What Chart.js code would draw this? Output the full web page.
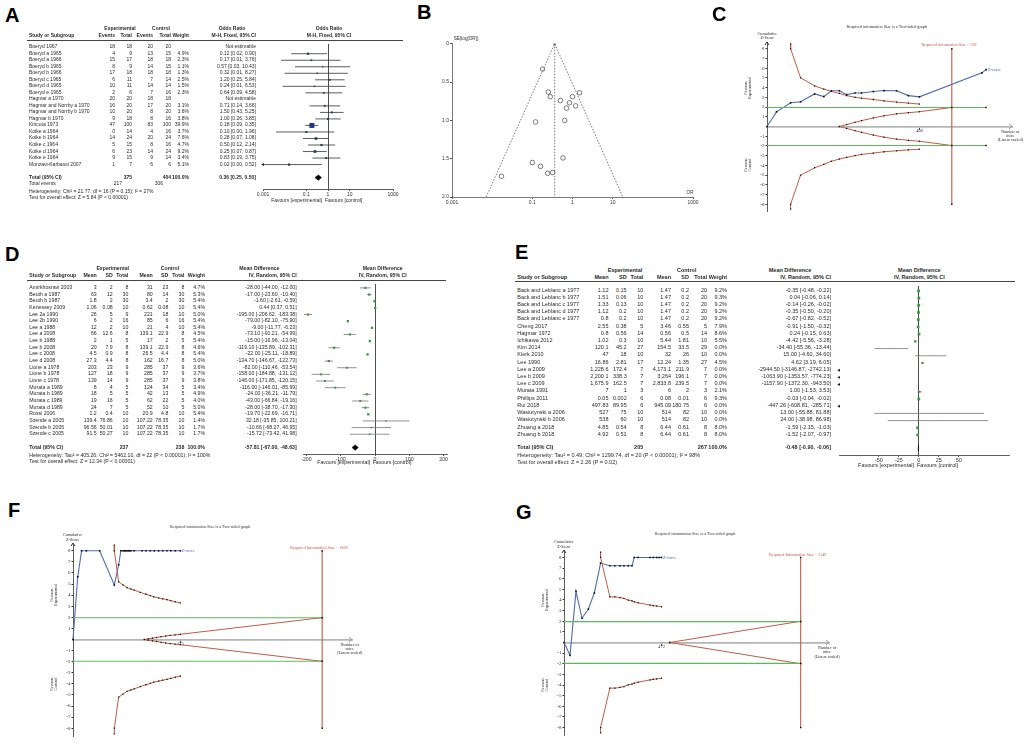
<!DOCTYPE html>
<html>
<head>
<meta charset="utf-8">
<title>Forest plots, funnel plot and trial sequential analysis</title>
<script src="https://cdn.jsdelivr.net/npm/chart.js@4.4.1/dist/chart.umd.min.js"></script>
<style>
  body { margin: 0; width: 1026px; height: 743px; position: relative; overflow: hidden; background: #fff;
         font-family: 'Liberation Sans', Arial, sans-serif; color: #2a2a2a; }
  .t { position: absolute; white-space: pre; line-height: 1.05; }
  .panel { position: absolute; font: bold 20px 'Liberation Sans', Arial, sans-serif; line-height: 1; color: #000; }
  .rule { position: absolute; height: 1px; background: #444; }
  canvas { position: absolute; }
</style>
</head>
<body>
<script>
// ---------- A: odds ratio forest plot ----------
const aStudies = ['Boeryd 1967', 'Boeryd a 1965', 'Boeryd a 1966', 'Boeryd b 1965', 'Boeryd b 1966', 'Boeryd c 1965',
  'Boeryd d 1965', 'Boeryd e 1965', 'Hagmar a 1970', 'Hagmar and Norrby a 1970', 'Hagmar and Norrby b 1970',
  'Hagmar b 1970', 'Kiricuta 1973', 'Koike a 1964', 'Koike b 1964', 'Koike c 1964', 'Koike d 1964', 'Koike e 1964',
  'Monzavi-Karbassi 2007'];
const aExpEvents = [18, 4, 15, 8, 17, 6, 10, 2, 20, 16, 10, 9, 47, 0, 14, 5, 6, 9, 1];
const aExpTotal = [18, 9, 17, 9, 18, 11, 11, 6, 20, 20, 20, 18, 100, 14, 24, 15, 23, 15, 7];
const aCtrlEvents = [20, 13, 18, 14, 18, 7, 14, 7, 18, 17, 8, 8, 83, 4, 20, 8, 14, 9, 6];
const aCtrlTotal = [20, 15, 18, 15, 18, 14, 14, 16, 18, 20, 20, 16, 100, 16, 24, 16, 24, 14, 6];
const aWeight = [null, 4.9, 2.3, 1.1, 1.3, 2.5, 1.5, 2.3, null, 3.1, 3.6, 3.8, 39.9, 3.7, 7.6, 4.7, 9.2, 3.4, 5.1];
const aOR = [null, 0.12, 0.17, 0.57, 0.32, 1.20, 0.24, 0.64, null, 0.71, 1.50, 1.00, 0.18, 0.10, 0.28, 0.50, 0.25, 0.83, 0.016];
const aLow = [null, 0.02, 0.0068, 0.03, 0.01, 0.25, 0.0081, 0.09, null, 0.14, 0.43, 0.26, 0.09, 0.004, 0.07, 0.12, 0.07, 0.19, 0.0008];
const aHigh = [null, 0.90, 3.76, 10.43, 8.27, 5.84, 6.53, 4.58, null, 3.66, 5.25, 3.85, 0.35, 1.96, 1.08, 2.14, 0.87, 3.75, 0.52];
const aTotal = { est: 0.36, lo: 0.25, hi: 0.50 };
const aTicks = [0.001, 0.1, 1, 10, 1000];
const aTotals = ['375', '404', '217', '306'];
const aHet = 'Heterogeneity: Chi² = 21.77, df = 16 (P = 0.15); I² = 27%';
const aTest = 'Test for overall effect: Z = 5.84 (P < 0.00001)';

// ---------- B: funnel plot ----------
const bOR = [0.18, 0.25, 0.28, 0.50, 1.0, 1.5, 0.84, 1.2, 0.71, 0.12, 0.64, 0.58, 0.10, 0.16, 0.24, 0.32, 0.017];
const bSE = [0.33, 0.63, 0.69, 0.74, 0.69, 0.64, 0.77, 0.81, 0.84, 1.02, 1.0, 1.49, 1.55, 1.6, 1.69, 1.68, 1.73];
const bPooled = 0.36;
const bFunnelLow = 0.0071;
const bFunnelHigh = 17.9;
const bSEMax = 2;
const bTicksX = [0.001, 0.1, 1, 10, 1000];
const bTicksY = [0, 0.5, 1, 1.5, 2];

// ---------- C: TSA for A ----------
const cZx = [0, 25, 62, 88, 125, 149, 169, 190, 209, 231, 248, 279, 307, 340, 371, 400, 564, 575];
const cZy = [0, 1.51, 2.44, 2.54, 3.35, 3.08, 3.68, 3.68, 3.28, 3.45, 3.45, 3.6, 3.7, 3.68, 3.18, 3.05, 5.52, 5.86];
const cBx = [62, 62, 88, 125, 149, 169, 190, 209, 231, 248, 279, 307, 340, 371, 400];
const cBup = [8.5, 8, 5.02, 4.18, 3.85, 3.61, 3.41, 3.18, 3.01, 2.91, 2.78, 2.64, 2.51, 2.41, 2.31];
const cBlow = [-8.5, -8, -5.02, -4.25, -3.9, -3.58, -3.35, -3.18, -3.0, -2.88, -2.74, -2.6, -2.5, -2.4, -2.34];
const cWx = [190, 209, 231, 248, 279, 307, 340, 371, 400, 485];
const cWup = [0, 0.2, 0.43, 0.6, 0.88, 1.1, 1.3, 1.42, 1.52, 1.96];
const cWlow = [0, -0.2, -0.43, -0.6, -0.88, -1.1, -1.3, -1.42, -1.52, -1.96];
const cRIS = 485, cGreenEnd = 575, cTick = 400, cXmax = 643;
const cRISLabel = 'Required information Size = 592';

// ---------- D: mean difference forest plot ----------
const dStudies = ['Amirkhosravi 2003', 'Beuth a 1987', 'Beuth b 1987', 'Kenessey 2009', 'Lee 2a 1990', 'Lee 2b 1990',
  'Lee a 1988', 'Lee a 2008', 'Lee b 1988', 'Lee b 2008', 'Lee c 2008', 'Lee d 2008', 'Lione a 1978', 'Lione b 1978',
  'Lione c 1978', 'Murata a 1989', 'Murata b 1989', 'Murata c 1989', 'Murata d 1989', 'Rossi 2006', 'Szende a 2005',
  'Szende b 2005', 'Szende c 2005'];
const dExpMean = [3, 63, 1.8, 1.06, 26, 6, 12, 66, 2, 20, 4.5, 27.3, 203, 127, 139, 8, 18, 19, 24, 1.2, 139.4, 96.56, 91.5];
const dExpSD = [2, 12, 2, 0.08, 5, 2, 2, 12.6, 1, 7.9, 0.9, 4.4, 23, 18, 14, 4, 5, 16, 7, 0.4, 76.86, 50.01, 50.27];
const dExpN = [8, 30, 30, 10, 9, 16, 10, 8, 5, 8, 8, 8, 9, 9, 9, 5, 5, 5, 5, 10, 10, 10, 10];
const dCtrlMean = [31, 80, 3.4, 0.62, 221, 85, 21, 139.1, 17, 139.1, 26.5, 162, 285, 285, 285, 124, 42, 62, 52, 20.9, 107.22, 107.22, 107.22];
const dCtrlSD = [23, 14, 2, 0.08, 18, 6, 4, 22.9, 2, 22.9, 4.4, 16.7, 37, 37, 37, 34, 13, 22, 10, 4.8, 78.35, 78.35, 78.35];
const dCtrlN = [8, 30, 30, 10, 10, 16, 10, 8, 5, 8, 8, 8, 9, 9, 9, 5, 5, 5, 5, 10, 10, 10, 10];
const dWeight = [4.7, 5.3, 5.4, 5.4, 5.0, 5.4, 5.4, 4.5, 5.4, 4.6, 5.4, 5.0, 3.6, 3.7, 3.8, 3.4, 4.9, 4.0, 5.0, 5.4, 1.4, 1.7, 1.7];
const dMD = [-28, -17, -1.6, 0.44, -195, -79, -9, -73.1, -15, -119.1, -22, -134.7, -82, -158, -146, -116, -24, -43, -28, -19.7, 32.18, -10.66, -15.72];
const dLow = [-44, -23.6, -2.61, 0.37, -206.62, -82.1, -11.77, -91.21, -16.96, -135.89, -25.11, -146.67, -110.46, -184.88,
  -171.85, -146.01, -36.21, -66.84, -38.7, -22.69, -35.85, -68.27, -73.42];
const dHigh = [-12, -10.4, -0.59, 0.51, -183.38, -75.9, -6.23, -54.99, -13.04, -102.31, -18.89, -122.73, -53.54, -131.12,
  -120.15, -85.99, -11.79, -19.16, -17.3, -16.71, 100.21, 46.95, 41.98];
const dTotal = { est: -57.81, lo: -67.00, hi: -48.63 };
const dTicks = [-200, -100, 0, 100, 200];
const dTotals = ['237', '238'];
const dHet = 'Heterogeneity: Tau² = 405.26; Chi² = 5462.10, df = 22 (P < 0.00001); I² = 100%';
const dTest = 'Test for overall effect: Z = 12.34 (P < 0.00001)';

// ---------- E: mean difference forest plot ----------
const eStudies = ['Back and Leblanc a 1977', 'Back and Leblanc b 1977', 'Back and Leblanc c 1977', 'Back and Leblanc d 1977',
  'Back and Leblanc e 1977', 'Cheng 2017', 'Hagmar 1972', 'Ichikawa 2012', 'Kim 2014', 'Klerk 2010', 'Lee 1990',
  'Lee a 2009', 'Lee b 2009', 'Lee c 2009', 'Murata 1991', 'Phillips 2011', 'Rui 2018', 'Wasiutynski a 2006',
  'Wasiutynski b 2006', 'Zhuang a 2018', 'Zhuang b 2018'];
const eExpMean = [1.12, 1.51, 1.33, 1.12, 0.8, 2.55, 0.8, 1.02, 120.1, 47, 16.86, 1228.6, 2200.1, 1675.9, 7, 0.05, 497.83, 527, 538, 4.85, 4.92];
const eExpSD = [0.15, 0.06, 0.13, 0.2, 0.2, 0.38, 0.56, 0.3, 45.2, 18, 2.81, 172.4, 338.3, 162.5, 1, 0.002, 89.95, 75, 60, 0.54, 0.51];
const eExpN = [10, 10, 10, 10, 10, 5, 14, 10, 27, 10, 17, 7, 7, 7, 3, 6, 6, 10, 10, 8, 8];
const eCtrlMean = [1.47, 1.47, 1.47, 1.47, 1.47, 3.46, 0.56, 5.44, 154.5, 32, 12.24, 4173.1, 3264, 2833.8, 6, 0.08, 945.09, 514, 514, 6.44, 6.44];
const eCtrlSD = [0.2, 0.2, 0.2, 0.2, 0.2, 0.55, 0.5, 1.81, 33.5, 26, 1.35, 211.9, 196.1, 239.5, 2, 0.01, 180.75, 82, 82, 0.61, 0.61];
const eCtrlN = [20, 20, 20, 20, 20, 5, 14, 10, 29, 10, 27, 7, 7, 7, 3, 6, 6, 10, 10, 8, 8];
const eWeight = [9.2, 9.3, 9.2, 9.2, 9.2, 7.9, 8.6, 5.5, 0, 0, 4.5, 0, 0, 0, 2.1, 9.3, 0, 0, 0, 8.0, 8.0];
const eMD = [-0.35, 0.04, -0.14, -0.35, -0.67, -0.91, 0.24, -4.42, -34.4, 15, 4.62, -2944.5, -1063.9, -1157.9, 1, -0.03, -447.26, 13, 24, -1.59, -1.52];
const eLow = [-0.48, -0.06, -0.26, -0.5, -0.82, -1.5, -0.15, -5.56, -55.36, -4.6, 3.19, -3146.87, -1353.57, -1372.3, -1.53,
  -0.04, -608.81, -55.88, -38.98, -2.15, -2.07];
const eHigh = [-0.22, 0.14, -0.02, -0.2, -0.52, -0.32, 0.63, -3.28, -13.44, 34.6, 6.05, -2742.13, -774.23, -943.5, 3.53,
  -0.02, -285.71, 81.88, 86.98, -1.03, -0.97];
const eTotal = { est: -0.48, lo: -0.90, hi: -0.06 };
const eTicks = [-50, -25, 0, 25, 50];
const eTotals = ['205', '267'];
const eHet = 'Heterogeneity: Tau² = 0.49; Chi² = 1299.74, df = 20 (P < 0.00001); I² = 98%';
const eTest = 'Test for overall effect: Z = 2.26 (P = 0.02)';

// ---------- F: TSA for D ----------
const fZx = [0, 21, 38, 59, 118, 183, 202, 212, 221, 227, 233, 239, 245, 251, 257, 271, 305, 323, 342, 360, 379, 397, 416, 433, 453, 475];
const fZy = [0, 5.65, 8, 8, 8, 4.91, 6.74, 8, 8, 8, 8, 8, 8, 8, 8, 8, 8, 8, 8, 8, 8, 8, 8, 8, 8, 8];
const fBx = [183, 183, 202, 221, 239, 257, 271, 298, 323, 342, 357, 379, 397, 416, 433, 453, 475];
const fBup = [8.5, 8, 5.2, 4.93, 4.68, 4.55, 4.45, 4.24, 4.08, 3.96, 3.85, 3.75, 3.67, 3.59, 3.5, 3.4, 3.3];
const fBlow = [-8.5, -8, -5.2, -4.93, -4.68, -4.55, -4.45, -4.24, -4.08, -3.96, -3.85, -3.75, -3.67, -3.59, -3.5, -3.4, -3.3];
const fWx = [316, 333, 352, 370, 390, 410, 430, 452, 475, 1103];
const fWup = [0, 0.06, 0.12, 0.18, 0.25, 0.31, 0.37, 0.42, 0.47, 1.97];
const fWlow = [0, -0.06, -0.12, -0.18, -0.25, -0.31, -0.37, -0.42, -0.47, -1.97];
const fRIS = 1103, fTick = 475, fXmax = 1235;
const fRISLabel = 'Required Information Size = 1069';

// ---------- G: TSA for E ----------
const gZx = [0, 29, 58, 87, 118, 147, 177, 222, 246, 271, 290, 311, 329, 340, 359, 416, 432, 448, 460, 472];
const gZy = [0, -1.2, 4.81, 2.28, 3.15, 4.66, 7.47, 7.22, 7.22, 7.22, 7.22, 7.22, 7.22, 8, 8, 8, 8, 8, 8, 8];
const gBx = [177, 177, 222, 246, 271, 290, 311, 329, 340, 359, 416, 432, 448, 472];
const gBup = [8.5, 8, 4.29, 4.29, 4.23, 4.14, 3.98, 3.92, 3.83, 3.73, 3.52, 3.46, 3.43, 3.36];
const gBlow = [-8.5, -8, -4.29, -4.29, -4.23, -4.14, -3.98, -3.92, -3.83, -3.73, -3.52, -3.46, -3.43, -3.36];
const gWx = [512, 1145];
const gWup = [0, 2.0];
const gWlow = [0, -2.0];
const gRIS = 1145, gTick = 472, gXmax = 1282;
const gRISLabel = 'Required Information Size = 1149';

const zTicks = [-8, -7, -6, -5, -4, -3, -2, -1, 1, 2, 3, 4, 5, 6, 7, 8];
const zBound = 1.96;

const SERIF = "'Liberation Serif', 'Times New Roman', serif";
const BLUE = '#4d6db5', RED = '#c25b45', GREEN = '#5cb85c', SQGREEN = '#2f9e3a';

Chart.defaults.animation = false;
Chart.defaults.responsive = false;
Chart.defaults.plugins.legend.display = false;
Chart.defaults.plugins.tooltip.enabled = false;
Chart.defaults.font.family = "'Liberation Sans', Arial, sans-serif";

// small helpers for the html text
function put(text, x, y, size, o) {
  o = o || {};
  var d = document.createElement('div');
  d.className = 't';
  d.textContent = text;
  d.style.left = x + 'px';
  d.style.top = y + 'px';
  d.style.fontSize = size + 'px';
  var tx = o.align === 'right' ? '-100%' : (o.align === 'center' ? '-50%' : '0');
  d.style.transform = 'translate(' + tx + ',-50%)' + (o.rotate ? ' rotate(-90deg)' : '');
  d.style.textAlign = o.align === 'right' ? 'right' : (o.align === 'center' ? 'center' : 'left');
  if (o.bold) d.style.fontWeight = 'bold';
  if (o.color) d.style.color = o.color;
  if (o.font) d.style.fontFamily = o.font;
  document.body.appendChild(d);
}
function panel(letter, x, y) {
  var d = document.createElement('div');
  d.className = 'panel';
  d.textContent = letter;
  d.style.left = x + 'px';
  d.style.top = y + 'px';
  document.body.appendChild(d);
}
function rule(x1, x2, y) {
  var d = document.createElement('div');
  d.className = 'rule';
  d.style.left = x1 + 'px';
  d.style.top = (y - 0.5) + 'px';
  d.style.width = (x2 - x1) + 'px';
  document.body.appendChild(d);
}
function addCanvas(left, top, w, h) {
  var c = document.createElement('canvas');
  c.width = Math.round(w);
  c.height = Math.round(h);
  c.style.left = left + 'px';
  c.style.top = top + 'px';
  document.body.appendChild(c);
  return c;
}
function num(v) { return v.toLocaleString('en-US', { maximumFractionDigits: 3 }); }
function ci(e, l, h) { return e.toFixed(2) + ' [' + l.toFixed(2) + ', ' + h.toFixed(2) + ']'; }

// forest plot: the chart area is the plot column, the rows follow the y scale
function forest(p) {
  var padX = 14, axisH = 9;
  var yMin = 1 - (p.row1 - p.top) / p.pitch;
  var yMax = 1 + (p.bottom - p.row1) / p.pitch;
  var cv = addCanvas(p.left - padX, p.top, p.right - p.left + 2 * padX, p.bottom - p.top + axisH);
  var sets = [];
  p.est.forEach(function (e, i) {
    if (e === null || p.hi[i] < p.xMin) return;
    sets.push({ data: [{ x: Math.max(p.lo[i], p.xMin), y: i + 1 }, { x: Math.min(p.hi[i], p.xMax), y: i + 1 }],
      showLine: true, borderColor: p.ciColor, borderWidth: 0.8, pointRadius: 0, clip: false });
  });
  var sq = [], sqR = [], arrows = [];
  p.est.forEach(function (e, i) {
    if (e === null) return;
    if (e >= p.xMin && e <= p.xMax) { sq.push({ x: e, y: i + 1 }); sqR.push(0.5 + 0.48 * Math.sqrt(p.weight[i])); }
    if (p.lo[i] < p.xMin) arrows.push({ x: p.xMin, y: i + 1 });
  });
  sets.push({ data: sq, pointStyle: 'rect', pointRadius: sqR, pointBackgroundColor: p.sqColor, pointBorderWidth: 0 });
  sets.push({ data: arrows, pointStyle: 'triangle', pointRotation: -90, pointRadius: 1.7,
    pointBackgroundColor: '#111', pointBorderWidth: 0, clip: false });
  var t = p.total, tr = p.totalRow;
  sets.push({ data: [{ x: t.lo, y: tr }, { x: t.est, y: tr - 0.4 }, { x: t.hi, y: tr }, { x: t.est, y: tr + 0.4 }, { x: t.lo, y: tr }],
    showLine: true, fill: 'shape', backgroundColor: '#000', borderColor: '#000', borderWidth: 0.6, pointRadius: 0, tension: 0 });

  var chart = new Chart(cv, {
    type: 'scatter',
    data: { datasets: sets },
    options: {
      layout: { padding: { left: padX, right: padX, top: 0, bottom: 0 } },
      scales: {
        x: {
          type: p.log ? 'logarithmic' : 'linear', min: p.xMin, max: p.xMax,
          afterBuildTicks: function (s) { s.ticks = p.ticks.map(function (v) { return { value: v }; }); },
          afterFit: function (s) { s.paddingLeft = 0; s.paddingRight = 0; s.height = axisH; },
          ticks: { font: { size: p.font }, color: '#333', padding: 0.5, maxRotation: 0, autoSkip: false,
            callback: function (v) { return String(v); } },
          grid: { color: function (c) { return c.tick && c.tick.value === p.ref ? '#222' : 'rgba(0,0,0,0)'; },
            tickColor: '#333', tickLength: 2, lineWidth: 0.8 },
          border: { color: '#333', width: 0.8 }
        },
        y: { type: 'linear', reverse: true, min: yMin, max: yMax, display: false }
      }
    }
  });
  var ys = chart.scales.y;
  p.rowY = function (r) { return p.top + ys.getPixelForValue(r); };
  return chart;
}

function rows(p, cells) {
  cells.forEach(function (row, i) {
    row.forEach(function (v, k) {
      if (v === '' || v === null) return;
      put(String(v), p.cols[k][0], p.rowY(i + 1), p.font, { align: p.cols[k][1] });
    });
  });
}

// trial sequential analysis chart
var arrowPlugin = {
  id: 'axisArrows',
  afterDraw: function (chart) {
    var ctx = chart.ctx, xs = chart.scales.x, ys = chart.scales.y;
    var y0 = ys.getPixelForValue(0), x0 = xs.left;
    ctx.save();
    ctx.lineWidth = 1;
    ctx.strokeStyle = '#9a9a9a';
    ctx.beginPath(); ctx.moveTo(xs.right - 3, y0 - 2.5); ctx.lineTo(xs.right, y0); ctx.lineTo(xs.right - 3, y0 + 2.5); ctx.stroke();
    ctx.strokeStyle = '#333';
    ctx.beginPath(); ctx.moveTo(x0 - 2, ys.top + 3); ctx.lineTo(x0, ys.top); ctx.lineTo(x0 + 2, ys.top + 3); ctx.stroke();
    ctx.restore();
  }
};

function tsa(p) {
  var yW = 9;
  var cv = addCanvas(p.left - yW - 3, p.top - 2, p.right - p.left + yW + 9, p.bottom - p.top + 4);
  function series(xs, vals, color, radius, width) {
    return { data: xs.map(function (x, i) { return { x: x, y: vals[i] }; }), showLine: true, borderColor: color,
      borderWidth: width || 1, pointStyle: 'rect', pointRadius: radius, pointBackgroundColor: '#111',
      pointBorderWidth: 0, clip: false };
  }
  var greenX = [0, p.ris].concat(p.greenEnd ? [p.greenEnd] : []);
  var greenR = [0, 1].concat(p.greenEnd ? [1] : []);
  var sets = [
    series(greenX, greenX.map(function () { return zBound; }), GREEN, greenR, 1.1),
    series(greenX, greenX.map(function () { return -zBound; }), GREEN, greenR, 1.1),
    series([p.ris, p.ris], [-8, 8], RED, 1, 1.1),
    series(p.wx, p.wup, RED, 0.9),
    series(p.wx, p.wlow, RED, 0.9),
    series(p.bx, p.bup, RED, 0.9),
    series(p.bx, p.blow, RED, 0.9),
    series(p.zx, p.zy, BLUE, 1.15, 1.1)
  ];
  var chart = new Chart(cv, {
    type: 'scatter',
    data: { datasets: sets },
    options: {
      layout: { padding: { left: 3, right: 6, top: 2, bottom: 2 } },
      scales: {
        x: {
          type: 'linear', min: 0, max: p.xMax, position: { y: 0 },
          afterBuildTicks: function (s) { s.ticks = [{ value: p.tick }]; },
          ticks: { font: { family: SERIF, size: 4.6 }, color: '#333', padding: 0, maxRotation: 0,
            callback: function (v) { return String(v); } },
          grid: { drawOnChartArea: false, tickLength: 2, tickColor: '#333' },
          border: { color: '#b4b4b4', width: 1.8 }
        },
        y: {
          type: 'linear', min: -8.7, max: 8.7, position: 'left',
          afterBuildTicks: function (s) { s.ticks = zTicks.map(function (v) { return { value: v }; }); },
          afterFit: function (s) { s.width = yW; s.paddingTop = 0; s.paddingBottom = 0; },
          ticks: { font: { family: SERIF, size: 5 }, color: '#333', padding: 1, autoSkip: false },
          grid: { drawOnChartArea: false, tickLength: 1.5, tickColor: '#333' },
          border: { color: '#333', width: 0.8 }
        }
      }
    },
    plugins: [arrowPlugin]
  });
  var xs = chart.scales.x, ys = chart.scales.y;
  var X = function (v) { return p.left - yW - 3 + xs.getPixelForValue(v); };
  var Y = function (v) { return p.top - 2 + ys.getPixelForValue(v); };
  var ax = X(0);
  put('Required information Size is a Two-sided graph', p.titleX, p.titleY, 4.2, { align: 'center', font: SERIF });
  put('Cumulative\nZ-Score', ax, Y(8.7) - 6, 4.2, { align: 'center', font: SERIF });
  put('Favours\nExperimental', ax - 19, Y(4), 4.2, { align: 'center', font: SERIF, rotate: true });
  put('Favours\nControl', ax - 19, Y(-4), 4.2, { align: 'center', font: SERIF, rotate: true });
  put('Number of\nmice\n(Linear scaled)', X(p.xMax) - 2, Y(0) + 10, 4.2, { align: 'center', font: SERIF });
  put(p.risLabel, X(p.ris) - 3, Y(8) - 3.3, 4.2, { align: 'center', font: SERIF, color: RED });
  var last = p.zx.length - 1;
  put('Z-curve', X(p.zx[last]) + 1.5, Y(p.zy[last]) + 0.5, 4.2, { font: SERIF, color: BLUE });
  return chart;
}

// ===== panel A =====
panel('A', 5, 5.4);
var pA = { left: 263, right: 393, top: 40, bottom: 189, row1: 43.3, pitch: 6.7, log: true, xMin: 0.001, xMax: 1000,
  ticks: aTicks, ref: 1, est: aOR, lo: aLow, hi: aHigh, weight: aWeight, total: aTotal, totalRow: 21,
  ciColor: '#333', sqColor: '#1f3c95', font: 5,
  cols: [[29, 'left'], [115, 'right'], [132, 'right'], [153, 'right'], [171, 'right'], [189, 'right'], [256, 'right']] };
forest(pA);
rule(27, 403, 40);
put('Experimental', 120, 29, 5, { align: 'center', bold: true });
put('Control', 161, 29, 5, { align: 'center', bold: true });
put('Odds Ratio', 232, 29, 5, { align: 'center', bold: true });
put('Odds Ratio', 329, 29, 5, { align: 'center', bold: true });
['Study or Subgroup', 'Events', 'Total', 'Events', 'Total', 'Weight', 'M-H, Fixed, 95% CI'].forEach(function (h, k) {
  put(h, pA.cols[k][0], 36, 5, { align: pA.cols[k][1], bold: true });
});
put('M-H, Fixed, 95% CI', 329, 36, 5, { align: 'center', bold: true });
rows(pA, aStudies.map(function (s, i) {
  return [s, aExpEvents[i], aExpTotal[i], aCtrlEvents[i], aCtrlTotal[i],
    aWeight[i] === null ? '' : aWeight[i].toFixed(1) + '%',
    aOR[i] === null ? 'Not estimable' : ci(aOR[i], aLow[i], aHigh[i])];
}));
put('Total (95% CI)', 29, pA.rowY(21), 5, { bold: true });
put(aTotals[0], 132, pA.rowY(21), 5, { align: 'right', bold: true });
put(aTotals[1], 171, pA.rowY(21), 5, { align: 'right', bold: true });
put('100.0%', 189, pA.rowY(21), 5, { align: 'right', bold: true });
put(ci(aTotal.est, aTotal.lo, aTotal.hi), 256, pA.rowY(21), 5, { align: 'right', bold: true });
put('Total events', 29, pA.rowY(22), 5);
put(aTotals[2], 122, pA.rowY(22), 5, { align: 'right' });
put(aTotals[3], 163, pA.rowY(22), 5, { align: 'right' });
put(aHet, 29, pA.rowY(23.15), 5);
put(aTest, 29, pA.rowY(24.1), 5);
put('Favours [experimental]', 322, 201, 5, { align: 'right' });
put('Favours [control]', 325, 201, 5);

// ===== panel B =====
panel('B', 417, 2.4);
(function () {
  var L = 451.7, R = 693, T = 42.7, Bt = 196.7, yW = 14, axisH = 9;
  var cv = addCanvas(L - yW - 4, T - 4, R - L + yW + 14, Bt - T + 4 + axisH + 2);
  new Chart(cv, {
    type: 'scatter',
    data: { datasets: [
      { data: [{ x: bFunnelLow, y: bSEMax }, { x: bPooled, y: 0 }, { x: bFunnelHigh, y: bSEMax }], showLine: true,
        borderColor: '#555', borderWidth: 0.8, borderDash: [1.5, 1.5], pointRadius: 0 },
      { data: [{ x: bPooled, y: 0 }, { x: bPooled, y: bSEMax }], showLine: true,
        borderColor: '#555', borderWidth: 0.8, borderDash: [1.5, 1.5], pointRadius: [1, 0], pointBackgroundColor: '#555' },
      { data: bOR.map(function (v, i) { return { x: v, y: bSE[i] }; }), pointStyle: 'circle', pointRadius: 2.3,
        pointBackgroundColor: 'rgba(0,0,0,0)', pointBorderColor: '#444', pointBorderWidth: 0.7 }
    ] },
    options: {
      layout: { padding: { left: 4, right: 10, top: 4, bottom: 2 } },
      scales: {
        x: { type: 'logarithmic', min: 0.001, max: 1000,
          afterBuildTicks: function (s) { s.ticks = bTicksX.map(function (v) { return { value: v }; }); },
          afterFit: function (s) { s.paddingLeft = 0; s.paddingRight = 0; s.height = axisH; },
          ticks: { font: { size: 5 }, color: '#333', padding: 0.5, maxRotation: 0, autoSkip: false,
            callback: function (v) { return String(v); } },
          grid: { drawOnChartArea: false, tickLength: 2, tickColor: '#555' },
          border: { color: '#555', width: 0.8 } },
        y: { type: 'linear', reverse: true, min: 0, max: bSEMax,
          afterBuildTicks: function (s) { s.ticks = bTicksY.map(function (v) { return { value: v }; }); },
          afterFit: function (s) { s.width = yW; s.paddingTop = 0; s.paddingBottom = 0; },
          ticks: { font: { size: 5 }, color: '#333', padding: 1, autoSkip: false },
          grid: { drawOnChartArea: false, tickLength: 2, tickColor: '#555' },
          border: { color: '#555', width: 0.8 } }
      }
    }
  });
  put('SE(log[OR])', L + 2, T - 3.5, 4.6);
  put('OR', R - 3, Bt - 3.5, 4.6, { align: 'center' });
})();

// ===== panel C =====
panel('C', 712, 4.4);
tsa({ left: 767.3, right: 1012, top: 40.0, bottom: 213.4, xMax: cXmax, tick: cTick, ris: cRIS, greenEnd: cGreenEnd,
  zx: cZx, zy: cZy, bx: cBx, bup: cBup, blow: cBlow, wx: cWx, wup: cWup, wlow: cWlow,
  risLabel: cRISLabel, titleX: 886.7, titleY: 26.7 });

// ===== panel D =====
panel('D', 5, 244);
var pD = { left: 302.5, right: 446, top: 280, bottom: 454.3, row1: 284, pitch: 6.82, log: false, xMin: -210, xMax: 210,
  ticks: dTicks, ref: 0, est: dMD, lo: dLow, hi: dHigh, weight: dWeight, total: dTotal, totalRow: 25,
  ciColor: '#777', sqColor: SQGREEN, font: 5.2,
  cols: [[29.3, 'left'], [96.7, 'right'], [112.7, 'right'], [128.3, 'right'], [152.7, 'right'], [168.3, 'right'],
    [184.3, 'right'], [205, 'right'], [296.7, 'right']] };
forest(pD);
rule(27, 446, 280);
put('Experimental', 112.7, 269.3, 5.2, { align: 'center', bold: true });
put('Control', 170, 269.3, 5.2, { align: 'center', bold: true });
put('Mean Difference', 259.3, 269.3, 5.2, { align: 'center', bold: true });
put('Mean Difference', 382.7, 269.3, 5.2, { align: 'center', bold: true });
['Study or Subgroup', 'Mean', 'SD', 'Total', 'Mean', 'SD', 'Total', 'Weight', 'IV, Random, 95% CI'].forEach(function (h, k) {
  put(h, pD.cols[k][0], 276.3, 5.2, { align: pD.cols[k][1], bold: true });
});
put('IV, Random, 95% CI', 382.7, 276.3, 5.2, { align: 'center', bold: true });
rows(pD, dStudies.map(function (s, i) {
  return [s, num(dExpMean[i]), num(dExpSD[i]), dExpN[i], num(dCtrlMean[i]), num(dCtrlSD[i]), dCtrlN[i],
    dWeight[i].toFixed(1) + '%', ci(dMD[i], dLow[i], dHigh[i])];
}));
put('Total (95% CI)', 29.3, pD.rowY(25), 5.2, { bold: true });
put(dTotals[0], 128.3, pD.rowY(25), 5.2, { align: 'right', bold: true });
put(dTotals[1], 184.3, pD.rowY(25), 5.2, { align: 'right', bold: true });
put('100.0%', 205, pD.rowY(25), 5.2, { align: 'right', bold: true });
put(ci(dTotal.est, dTotal.lo, dTotal.hi), 296.7, pD.rowY(25), 5.2, { align: 'right', bold: true });
put(dHet, 29.3, pD.rowY(26.2), 5.2);
put(dTest, 29.3, pD.rowY(27.1), 5.2);
put('Favours [experimental]', 370, 462.7, 5.2, { align: 'right' });
put('Favours [control]', 372.7, 462.7, 5.2);

// ===== panel E =====
panel('E', 515, 242.4);
var pE = { left: 839.3, right: 1009.7, top: 281.7, bottom: 454.3, row1: 286.7, pitch: 7.36, log: false, xMin: -100, xMax: 113,
  ticks: eTicks, ref: 0, est: eMD, lo: eLow, hi: eHigh, weight: eWeight, total: eTotal, totalRow: 22.82,
  ciColor: '#777', sqColor: SQGREEN, font: 5.5,
  cols: [[517.3, 'left'], [608.5, 'right'], [626.7, 'right'], [643.3, 'right'], [671, 'right'], [689, 'right'],
    [707, 'right'], [727, 'right'], [831, 'right']] };
forest(pE);
rule(515, 1015, 281.7);
put('Experimental', 625, 270.7, 5.5, { align: 'center', bold: true });
put('Control', 686.7, 270.7, 5.5, { align: 'center', bold: true });
put('Mean Difference', 790, 270.7, 5.5, { align: 'center', bold: true });
put('Mean Difference', 919.3, 270.7, 5.5, { align: 'center', bold: true });
['Study or Subgroup', 'Mean', 'SD', 'Total', 'Mean', 'SD', 'Total', 'Weight', 'IV, Random, 95% CI'].forEach(function (h, k) {
  put(h, pE.cols[k][0], 278.3, 5.5, { align: pE.cols[k][1], bold: true });
});
put('IV, Random, 95% CI', 919.3, 278.3, 5.5, { align: 'center', bold: true });
rows(pE, eStudies.map(function (s, i) {
  return [s, num(eExpMean[i]), num(eExpSD[i]), eExpN[i], num(eCtrlMean[i]), num(eCtrlSD[i]), eCtrlN[i],
    eWeight[i].toFixed(1) + '%', ci(eMD[i], eLow[i], eHigh[i])];
}));
put('Total (95% CI)', 517.3, pE.rowY(22.82), 5.5, { bold: true });
put(eTotals[0], 643.3, pE.rowY(22.82), 5.5, { align: 'right', bold: true });
put(eTotals[1], 707, pE.rowY(22.82), 5.5, { align: 'right', bold: true });
put('100.0%', 727, pE.rowY(22.82), 5.5, { align: 'right', bold: true });
put(ci(eTotal.est, eTotal.lo, eTotal.hi), 831, pE.rowY(22.82), 5.5, { align: 'right', bold: true });
put(eHet, 517.3, pE.rowY(23.96), 5.5);
put(eTest, 517.3, pE.rowY(24.9), 5.5);
put('Favours [experimental]', 914, 465.7, 5.5, { align: 'right' });
put('Favours [control]', 917, 465.7, 5.5);

// ===== panel F =====
panel('F', 8, 500.4);
tsa({ left: 72.7, right: 351.7, top: 541.1, bottom: 738.3, xMax: fXmax, tick: fTick, ris: fRIS, greenEnd: null,
  zx: fZx, zy: fZy, bx: fBx, bup: fBup, blow: fBlow, wx: fWx, wup: fWup, wlow: fWlow,
  risLabel: fRISLabel, titleX: 210, titleY: 526.5 });

// ===== panel G =====
panel('G', 516, 502.4);
tsa({ left: 564, right: 829.3, top: 548.4, bottom: 736.9, xMax: gXmax, tick: gTick, ris: gRIS, greenEnd: null,
  zx: gZx, zy: gZy, bx: gBx, bup: gBup, blow: gBlow, wx: gWx, wup: gWup, wlow: gWlow,
  risLabel: gRISLabel, titleX: 695, titleY: 534 });
</script>
</body>
</html>
